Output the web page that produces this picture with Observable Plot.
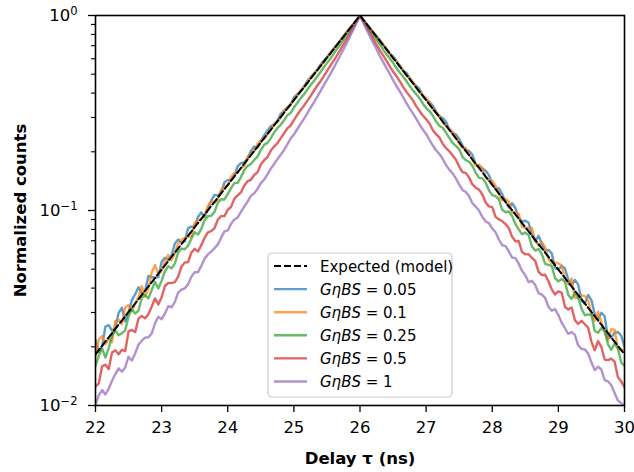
<!DOCTYPE html>
<html><head><meta charset="utf-8">
<script src="https://cdn.jsdelivr.net/npm/d3@7"></script>
<script src="https://cdn.jsdelivr.net/npm/@observablehq/plot@0.6"></script>
<style>body{margin:0;background:#fff} svg{display:block}</style>
</head><body><div id="chart"></div>
<script>
// Delay axis (ns), 50 ps bins
const tau = [
22.00,22.05,22.10,22.15,22.20,22.25,22.30,22.35,22.40,22.45,
22.50,22.55,22.60,22.65,22.70,22.75,22.80,22.85,22.90,22.95,
23.00,23.05,23.10,23.15,23.20,23.25,23.30,23.35,23.40,23.45,
23.50,23.55,23.60,23.65,23.70,23.75,23.80,23.85,23.90,23.95,
24.00,24.05,24.10,24.15,24.20,24.25,24.30,24.35,24.40,24.45,
24.50,24.55,24.60,24.65,24.70,24.75,24.80,24.85,24.90,24.95,
25.00,25.05,25.10,25.15,25.20,25.25,25.30,25.35,25.40,25.45,
25.50,25.55,25.60,25.65,25.70,25.75,25.80,25.85,25.90,25.95,
26.00,26.05,26.10,26.15,26.20,26.25,26.30,26.35,26.40,26.45,
26.50,26.55,26.60,26.65,26.70,26.75,26.80,26.85,26.90,26.95,
27.00,27.05,27.10,27.15,27.20,27.25,27.30,27.35,27.40,27.45,
27.50,27.55,27.60,27.65,27.70,27.75,27.80,27.85,27.90,27.95,
28.00,28.05,28.10,28.15,28.20,28.25,28.30,28.35,28.40,28.45,
28.50,28.55,28.60,28.65,28.70,28.75,28.80,28.85,28.90,28.95,
29.00,29.05,29.10,29.15,29.20,29.25,29.30,29.35,29.40,29.45,
29.50,29.55,29.60,29.65,29.70,29.75,29.80,29.85,29.90,29.95,
30.00];

const gbs005 = [
0.0217,0.0188,0.0201,0.0254,0.0258,0.0242,0.0251,0.0299,0.0317,0.0270,
0.0302,0.0347,0.0372,0.0404,0.0375,0.0387,0.0462,0.0456,0.0452,0.0455,
0.0546,0.0573,0.0557,0.0588,0.0678,0.0710,0.0685,0.0695,0.0811,0.0827,
0.0826,0.0926,0.0978,0.0929,0.1017,0.1123,0.1202,0.1191,0.1239,0.1394,
0.1436,0.1430,0.1508,0.1682,0.1749,0.1766,0.1855,0.2021,0.2129,0.2099,
0.2258,0.2421,0.2568,0.2708,0.2750,0.2884,0.3127,0.3227,0.3350,0.3484,
0.3790,0.3954,0.4080,0.432,0.4592,0.482,0.5018,0.525,0.5592,0.585,
0.611,0.643,0.678,0.707,0.744,0.783,0.825,0.863,0.906,0.952,
1.0,0.951,0.908,0.864,0.819,0.779,0.752,0.711,0.672,0.640,
0.617,0.588,0.548,0.522,0.509,0.479,0.450,0.436,0.420,0.388,
0.370,0.3598,0.345,0.3208,0.304,0.2977,0.286,0.2603,0.249,0.2459,
0.233,0.2151,0.203,0.2021,0.193,0.1725,0.168,0.1641,0.160,0.1518,
0.137,0.1288,0.130,0.1215,0.111,0.1036,0.109,0.1028,0.0921,0.0877,
0.0886,0.0865,0.0749,0.0695,0.0741,0.0678,0.0621,0.0628,0.0603,0.0507,
0.0499,0.0519,0.0504,0.0442,0.0415,0.0440,0.0418,0.0345,0.0333,0.0369,
0.0347,0.0294,0.0276,0.0299,0.0287,0.0222,0.0223,0.0236,0.0238,0.0228,
0.0200];

const gbs01 = [
0.0178,0.0218,0.0227,0.0206,0.0221,0.0211,0.0272,0.0276,0.0261,0.0318,
0.0328,0.0305,0.0333,0.0360,0.0409,0.0363,0.0398,0.0481,0.0526,0.0473,
0.0490,0.0550,0.0591,0.0555,0.0604,0.0679,0.0708,0.0725,0.0730,0.0739,
0.0864,0.0895,0.0899,0.0946,0.1055,0.1119,0.1098,0.1143,0.1275,0.1321,
0.1340,0.1484,0.1555,0.1563,0.1651,0.1691,0.1880,0.1960,0.2015,0.2197,
0.2293,0.2330,0.2458,0.2613,0.2770,0.2825,0.3000,0.3268,0.3380,0.3504,
0.3697,0.390,0.4125,0.426,0.4511,0.478,0.5008,0.525,0.5504,0.575,
0.608,0.642,0.672,0.705,0.742,0.782,0.820,0.861,0.905,0.952,
1.0,0.952,0.904,0.859,0.822,0.784,0.739,0.707,0.678,0.634,
0.604,0.581,0.556,0.521,0.493,0.479,0.456,0.427,0.404,0.390,
0.377,0.3595,0.331,0.3153,0.309,0.2814,0.272,0.2631,0.253,0.2406,
0.220,0.2094,0.2096,0.1943,0.182,0.1701,0.172,0.1649,0.148,0.1428,
0.142,0.1340,0.121,0.1125,0.115,0.1109,0.098,0.0975,0.0963,0.0825,
0.0814,0.0815,0.0813,0.0699,0.0661,0.0687,0.0647,0.0566,0.0536,0.0541,
0.0535,0.0523,0.0443,0.0419,0.0448,0.0357,0.0356,0.0368,0.0364,0.0346,
0.0295,0.0272,0.0303,0.0268,0.0237,0.0216,0.0246,0.0245,0.0196,0.0192,
0.0194];

const gbs025 = [
0.0159,0.0180,0.0196,0.0176,0.0197,0.0228,0.0242,0.0229,0.0235,0.0243,
0.0287,0.0311,0.0296,0.0307,0.0357,0.0368,0.0354,0.0391,0.0431,0.0398,
0.0437,0.0488,0.0518,0.0505,0.0534,0.0610,0.0638,0.0633,0.0659,0.0717,
0.0773,0.0753,0.0805,0.0891,0.0935,0.0940,0.0984,0.1098,0.1143,0.1139,
0.1214,0.1302,0.1382,0.1386,0.1484,0.1611,0.1690,0.1730,0.1815,0.1889,
0.2048,0.2172,0.2222,0.2344,0.2510,0.2641,0.2750,0.2897,0.3076,0.3158,
0.3374,0.356,0.376,0.393,0.415,0.439,0.460,0.485,0.512,0.541,
0.570,0.600,0.634,0.672,0.708,0.748,0.793,0.840,0.889,0.942,
1.0,0.943,0.888,0.838,0.792,0.751,0.710,0.669,0.632,0.602,
0.572,0.538,0.510,0.487,0.462,0.436,0.413,0.395,0.377,0.354,
0.335,0.3235,0.307,0.2864,0.272,0.2656,0.251,0.2355,0.222,0.2144,
0.206,0.1885,0.181,0.1778,0.169,0.1560,0.147,0.1461,0.139,0.1270,
0.120,0.1186,0.114,0.1010,0.098,0.0989,0.0938,0.0853,0.0800,0.0756,
0.0770,0.0748,0.0655,0.0623,0.0635,0.0598,0.0532,0.0526,0.0520,0.0450,
0.0433,0.0446,0.0430,0.0369,0.0352,0.0378,0.0358,0.0314,0.0290,0.0293,
0.0292,0.0241,0.0236,0.0250,0.0241,0.0206,0.0193,0.0208,0.0196,0.0166,
0.0160];

const gbs05 = [
0.0125,0.0130,0.0159,0.0162,0.0154,0.0187,0.0192,0.0183,0.0193,0.0190,
0.0240,0.0244,0.0238,0.0279,0.0288,0.0280,0.0294,0.0322,0.0354,0.0330,
0.0359,0.0410,0.0425,0.0424,0.0429,0.0458,0.0515,0.0542,0.0543,0.0608,
0.0636,0.0616,0.0664,0.0724,0.0773,0.0783,0.0813,0.0897,0.0937,0.0936,
0.1007,0.1044,0.1151,0.1196,0.1238,0.1342,0.1413,0.1437,0.1521,0.1569,
0.1722,0.1810,0.1875,0.2027,0.2127,0.2208,0.2343,0.2481,0.2639,0.2722,
0.291,0.309,0.327,0.344,0.364,0.385,0.410,0.435,0.459,0.487,
0.518,0.552,0.585,0.622,0.665,0.710,0.757,0.810,0.868,0.932,
1.0,0.931,0.867,0.812,0.758,0.708,0.663,0.625,0.587,0.549,
0.516,0.490,0.461,0.432,0.407,0.387,0.367,0.343,0.324,0.307,
0.294,0.2805,0.259,0.2463,0.237,0.2198,0.209,0.2015,0.192,0.1821,
0.168,0.1573,0.156,0.1474,0.136,0.1309,0.128,0.1208,0.110,0.1050,
0.104,0.0928,0.0900,0.0883,0.0852,0.0814,0.0733,0.0696,0.0697,0.0613,
0.0596,0.0597,0.0571,0.0552,0.0485,0.0466,0.0468,0.0434,0.0394,0.0371,
0.0385,0.0379,0.0320,0.0311,0.0318,0.0274,0.0262,0.0272,0.0261,0.0251,
0.0212,0.0192,0.0214,0.0200,0.0172,0.0171,0.0174,0.0168,0.0140,0.0133,
0.0124];

const gbs1 = [
0.0101,0.0113,0.0120,0.0114,0.0122,0.0134,0.0145,0.0155,0.0149,0.0157,
0.0178,0.0170,0.0185,0.0205,0.0215,0.0223,0.0224,0.0234,0.0264,0.0285,
0.0277,0.0296,0.0323,0.0319,0.0340,0.0379,0.0393,0.0399,0.0418,0.0458,
0.0482,0.0483,0.0520,0.0566,0.0595,0.0616,0.0641,0.0670,0.0726,0.0782,
0.0790,0.0854,0.0898,0.0921,0.0985,0.1048,0.1110,0.1188,0.1225,0.1288,
0.1382,0.1438,0.153,0.1638,0.173,0.1832,0.193,0.2038,0.218,0.2338,
0.245,0.261,0.277,0.294,0.314,0.336,0.357,0.381,0.408,0.437,
0.467,0.500,0.537,0.579,0.622,0.670,0.723,0.784,0.847,0.920,
1.0,0.921,0.848,0.782,0.724,0.672,0.621,0.577,0.538,0.502,
0.466,0.435,0.409,0.383,0.356,0.334,0.315,0.296,0.276,0.260,
0.247,0.2305,0.216,0.2036,0.195,0.1842,0.171,0.1621,0.155,0.1461,
0.136,0.1275,0.1245,0.1184,0.1090,0.1046,0.1000,0.0927,0.0878,0.0861,
0.0808,0.0773,0.0710,0.0664,0.0656,0.0618,0.0574,0.0570,0.0534,0.0491,
0.0465,0.0429,0.0436,0.0415,0.0377,0.0370,0.0356,0.0321,0.0306,0.0312,
0.0291,0.0266,0.0249,0.0233,0.0238,0.0230,0.0203,0.0195,0.0194,0.0185,
0.0166,0.0152,0.0158,0.0153,0.0135,0.0133,0.0127,0.0116,0.0106,0.0103,
0.0099];

// Expected model (straight line on the log axis)
const modelTau = [22, 23, 24, 25, 26, 27, 28, 29, 30];
const modelVal = [0.0183, 0.0498, 0.1353, 0.3679, 1.0, 0.3679, 0.1353, 0.0498, 0.0183];

const seriesValues = [gbs005, gbs01, gbs025, gbs05, gbs1];
const seriesKeys = ["0.05", "0.1", "0.25", "0.5", "1"];
const seriesColors = ["#1f77b4", "#ff7f0e", "#2ca02c", "#d62728", "#9467bd"];
const modelLabel = "Expected (model)";

const xTicks = [22, 23, 24, 25, 26, 27, 28, 29, 30];
const yMajor = [0.01, 0.1, 1];
const yExponents = ["\u22122", "\u22121", "0"];
const yMinor = [0.02,0.03,0.04,0.05,0.06,0.07,0.08,0.09,0.2,0.3,0.4,0.5,0.6,0.7,0.8,0.9];
const xLabel = "Delay \u03C4 (ns)";
const yLabel = "Normalized counts";

seriesValues.forEach((v, i) => { if (v.length !== tau.length) throw new Error("length mismatch " + seriesKeys[i] + ": " + v.length); });

const rows = [];
seriesValues.forEach((vals, i) => tau.forEach((t, j) => rows.push({tau: t, value: vals[j], key: seriesKeys[i]})));
const modelRows = modelTau.map((t, i) => ({tau: t, value: modelVal[i]}));

const FONT = "DejaVu Sans";
const chart = Plot.plot({
  width: 634, height: 472,
  marginLeft: 95, marginRight: 10, marginTop: 15, marginBottom: 67,
  style: {fontFamily: FONT, fontSize: "16.5px", color: "black", background: "white"},
  x: {domain: [22, 30]},
  y: {type: "log", domain: [0.01, 1]},
  color: {domain: seriesKeys, range: seriesColors},
  marks: [
    Plot.line(rows, {x: "tau", y: "value", z: "key", stroke: "key", strokeWidth: 2.4, strokeOpacity: 0.72, clip: true}),
    Plot.line(modelRows, {x: "tau", y: "value", stroke: "black", strokeWidth: 2, strokeDasharray: "7,3", clip: true}),
    Plot.axisX({ticks: xTicks, tickSize: 7, tickPadding: 9, tickFormat: d => String(d), label: null, strokeWidth: 1.3}),
    Plot.axisY({ticks: yMajor, tickSize: 7, tickPadding: 11, tickFormat: d => "10^" + yExponents[yMajor.indexOf(d)], label: null, strokeWidth: 1.3}),
    Plot.axisY({ticks: yMinor, tickSize: 4, tickFormat: () => "", label: null, strokeWidth: 1.1}),
    Plot.frame({stroke: "black", strokeWidth: 1.6}),
    Plot.text([xLabel], {text: d => d, frameAnchor: "bottom", dy: 58, lineAnchor: "bottom", textAnchor: "middle", fontWeight: "bold", fontSize: 16.5}),
    Plot.text([yLabel], {text: d => d, frameAnchor: "left", dx: -70, rotate: -90, lineAnchor: "bottom", textAnchor: "middle", fontWeight: "bold", fontSize: 16.5})
  ]
});

// superscript exponents on the y tick labels
d3.select(chart).selectAll("text").each(function() {
  const m = /^10\^(.+)$/.exec(this.textContent);
  if (m) {
    const sel = d3.select(this);
    sel.text("");
    sel.append("tspan").text("10");
    sel.append("tspan").attr("dy", "-0.5em").attr("font-size", "0.7em").text(m[1]);
  }
});

// legend
const svg = d3.select(chart);
const lg = svg.append("g").attr("font-family", FONT).attr("font-size", 15).attr("text-anchor", "start");
lg.append("rect").attr("x", 268).attr("y", 253).attr("width", 184).attr("height", 144)
  .attr("rx", 4).attr("fill", "white").attr("fill-opacity", 0.8).attr("stroke", "#cccccc").attr("stroke-width", 1.2);
const entries = [{label: modelLabel, color: "black", dash: "7,3", op: 1}]
  .concat(seriesKeys.map((k, i) => ({key: k, color: seriesColors[i], dash: null, op: 0.72})));
entries.forEach((e, i) => {
  const cy = 266 + i * 23.1;
  const ln = lg.append("line").attr("x1", 274).attr("x2", 307).attr("y1", cy).attr("y2", cy)
    .attr("stroke", e.color).attr("stroke-width", 2.4).attr("stroke-opacity", e.op);
  if (e.dash) ln.attr("stroke-dasharray", e.dash).attr("stroke-width", 2);
  const t = lg.append("text").attr("x", 320).attr("y", cy + 5.5).attr("fill", "black").attr("text-anchor", "start");
  if (e.label) t.text(e.label);
  else {
    t.append("tspan").attr("font-style", "italic").text("G\u03B7BS");
    t.append("tspan").text(" = " + e.key);
  }
});

document.getElementById("chart").appendChild(chart);
</script>
</body></html>
